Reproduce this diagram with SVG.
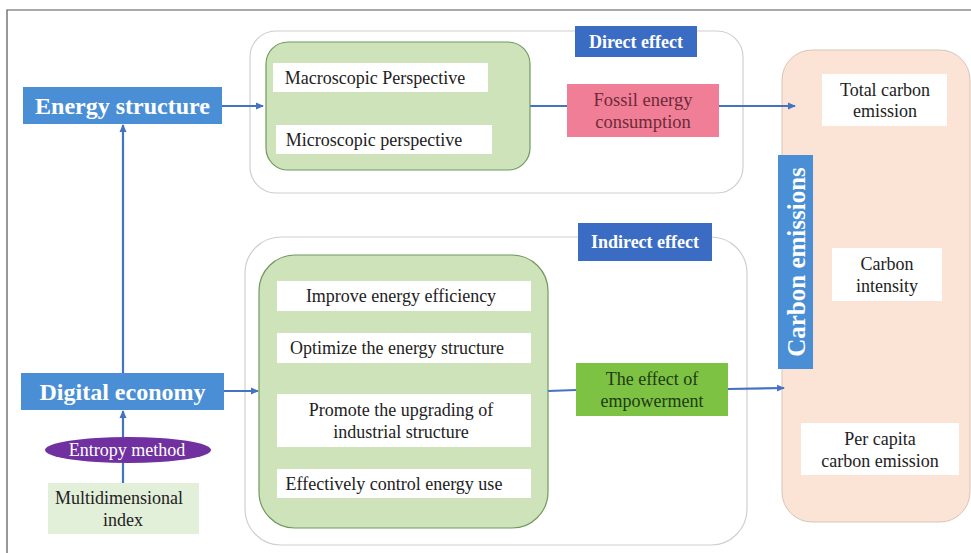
<svg xmlns="http://www.w3.org/2000/svg" width="971" height="553" viewBox="0 0 971 553">
<defs>
<marker id="ah" markerWidth="8" markerHeight="8" refX="7" refY="4" orient="auto" markerUnits="userSpaceOnUse">
<path d="M0,0.5 L8,4 L0,7.5 Z" fill="#4472c4"/>
</marker>
<style>
text{font-family:'Liberation Serif','DejaVu Serif',serif;text-anchor:middle;dominant-baseline:central}
.blue{fill:#4a8fd6}
.dblue{fill:#3a6cc4}
.wt{fill:#fff;font-weight:bold}
.wbox{fill:#fff}
.t{fill:#222;font-size:18px}
.cont{fill:#fff;stroke:#cfcfcf;stroke-width:1.2}
.green{fill:#cfe3bb;stroke:#6f9a5e;stroke-width:1.2}
.conn{stroke:#4472c4;stroke-width:2.2;fill:none}
</style>
</defs>
<rect width="971" height="553" fill="#fff"/>
<path d="M7,553 V10 H971" fill="none" stroke="#555" stroke-width="1.2"/>

<g id="direct-container">
<rect class="cont" x="250" y="31" width="493" height="162" rx="26"/>
</g>
<g id="indirect-container">
<rect class="cont" x="245" y="237" width="502" height="308" rx="36"/>
</g>
<g id="carbon-container">
<rect x="782" y="50" width="188" height="472" rx="30" fill="#fbe4d6" stroke="#d9c4b8" stroke-width="1"/>
</g>

<g id="connectors">
<line class="conn" x1="222" y1="106" x2="263" y2="106" marker-end="url(#ah)"/>
<line class="conn" x1="530" y1="106" x2="567" y2="106"/>
<line class="conn" x1="719" y1="106" x2="795" y2="106" marker-end="url(#ah)"/>
<line class="conn" x1="123" y1="373" x2="123" y2="125" marker-end="url(#ah)"/>
<line class="conn" x1="224" y1="391" x2="258" y2="391" marker-end="url(#ah)"/>
<line class="conn" x1="123" y1="483" x2="123" y2="411" marker-end="url(#ah)"/>
<line class="conn" x1="548" y1="391" x2="576" y2="390"/>
<line class="conn" x1="728" y1="389" x2="784" y2="388" marker-end="url(#ah)"/>
</g>

<g id="energy-structure">
<rect class="blue" x="23" y="87" width="199" height="37"/>
<text class="wt" x="122.5" y="106" font-size="24">Energy structure</text>
</g>

<g id="perspectives">
<rect class="green" x="266" y="42" width="264" height="128" rx="22"/>
<rect class="wbox" x="273" y="63" width="215" height="29"/>
<text class="t" x="375" y="78">Macroscopic Perspective</text>
<rect class="wbox" x="276" y="125" width="216" height="29"/>
<text class="t" x="374" y="140">Microscopic perspective</text>
</g>

<g id="direct-effect">
<rect class="dblue" x="575" y="26" width="122" height="31"/>
<text class="wt" x="636" y="41.5" font-size="18">Direct effect</text>
</g>

<g id="fossil">
<rect x="567" y="84" width="152" height="53" fill="#f07e97"/>
<text x="643" y="100" font-size="18.5" fill="#6e2a38">Fossil energy</text>
<text x="643" y="122" font-size="18.5" fill="#6e2a38">consumption</text>
</g>

<g id="mechanisms">
<rect class="green" x="259" y="255" width="289" height="273" rx="36"/>
<rect class="wbox" x="277" y="281" width="254" height="30"/>
<text class="t" x="401" y="296">Improve energy efficiency</text>
<rect class="wbox" x="277" y="333" width="254" height="30"/>
<text class="t" x="397" y="348">Optimize the energy structure</text>
<rect class="wbox" x="277" y="394" width="254" height="53"/>
<text class="t" x="401" y="410">Promote the upgrading of</text>
<text class="t" x="401" y="432">industrial structure</text>
<rect class="wbox" x="277" y="469" width="254" height="29"/>
<text class="t" x="394" y="484">Effectively control energy use</text>
</g>

<g id="indirect-effect">
<rect class="dblue" x="578" y="223" width="134" height="38"/>
<text class="wt" x="645" y="242" font-size="18">Indirect effect</text>
</g>

<g id="empowerment">
<rect x="576" y="363" width="152" height="53" fill="#7dc242"/>
<text x="652" y="379" font-size="18" fill="#1f3a14">The effect of</text>
<text x="652" y="401" font-size="18" fill="#1f3a14">empowerment</text>
</g>

<g id="digital-economy">
<rect class="blue" x="21" y="373" width="203" height="37"/>
<text class="wt" x="122.5" y="392" font-size="24">Digital economy</text>
</g>

<g id="entropy">
<ellipse cx="128" cy="450" rx="83" ry="13" fill="#7030a0"/>
<text x="127" y="450" font-size="18" fill="#fff">Entropy method</text>
</g>

<g id="multidimensional">
<rect x="48" y="483" width="151" height="51" fill="#e2efd9"/>
<text class="t" x="119" y="498">Multidimensional</text>
<text class="t" x="123" y="520">index</text>
</g>

<g id="carbon-emissions">
<rect class="blue" x="778" y="155" width="35" height="214"/>
<text class="wt" font-size="25" transform="translate(796,262) rotate(-90)">Carbon emissions</text>
</g>

<g id="total">
<rect class="wbox" x="822" y="74" width="125" height="52"/>
<text class="t" x="885" y="90">Total carbon</text>
<text class="t" x="885" y="111">emission</text>
</g>

<g id="intensity">
<rect class="wbox" x="832" y="248" width="110" height="53"/>
<text class="t" x="887" y="264">Carbon</text>
<text class="t" x="887" y="286">intensity</text>
</g>

<g id="per-capita">
<rect class="wbox" x="801" y="423" width="158" height="52"/>
<text class="t" x="880" y="439">Per capita</text>
<text class="t" x="880" y="461">carbon emission</text>
</g>
</svg>
